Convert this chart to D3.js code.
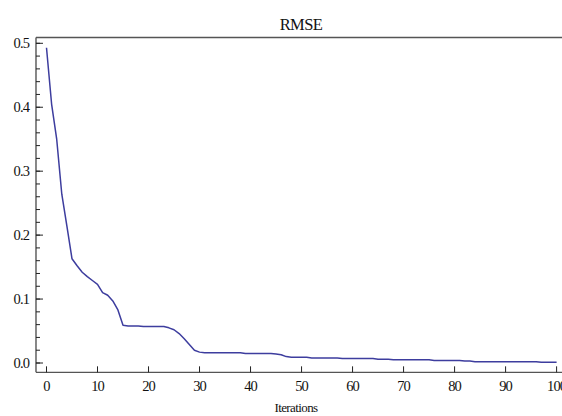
<!DOCTYPE html>
<html>
<head>
<meta charset="utf-8">
<script src="https://cdn.jsdelivr.net/npm/d3@7"></script>
<style>
  body { margin: 0; background: #fff; }
  svg { display: block; font-family: "Liberation Serif", "DejaVu Serif", serif; }
</style>
</head>
<body>
<svg id="chart" width="562" height="416"></svg>
<script>
// RMSE per iteration
var iterations = d3.range(0, 101);
var rmse = [
  0.493, 0.405, 0.350, 0.264, 0.214, 0.163, 0.152, 0.142, 0.135, 0.129,
  0.123, 0.110, 0.106, 0.097, 0.083, 0.059, 0.058, 0.058, 0.058, 0.057,
  0.057, 0.057, 0.057, 0.057, 0.055, 0.052, 0.046, 0.038, 0.029, 0.020,
  0.017, 0.016, 0.016, 0.016, 0.016, 0.016, 0.016, 0.016, 0.016, 0.015,
  0.015, 0.015, 0.015, 0.015, 0.015, 0.014, 0.013, 0.010, 0.009, 0.009,
  0.009, 0.009, 0.008, 0.008, 0.008, 0.008, 0.008, 0.008, 0.007, 0.007,
  0.007, 0.007, 0.007, 0.007, 0.007, 0.006, 0.006, 0.006, 0.005, 0.005,
  0.005, 0.005, 0.005, 0.005, 0.005, 0.005, 0.004, 0.004, 0.004, 0.004,
  0.004, 0.004, 0.003, 0.003, 0.002, 0.002, 0.002, 0.002, 0.002, 0.002,
  0.002, 0.002, 0.002, 0.002, 0.002, 0.002, 0.002, 0.001, 0.001, 0.001,
  0.001
];
var xTicks = [0, 10, 20, 30, 40, 50, 60, 70, 80, 90, 100];
var yTicks = [0.0, 0.1, 0.2, 0.3, 0.4, 0.5];
var yMinorTicks = d3.range(0, 0.5001, 0.02);

var title = "RMSE";
var xLabel = "Iterations";

// scales
var xScale = d3.scaleLinear().domain([0, 100]).range([46.5, 556.6]);
var yScale = d3.scaleLinear().domain([0, 0.5]).range([363, 43.3]);

// frame edges in data units
var xLo = -2.06, xHi = 101.8, yLo = -0.0146, yHi = 0.509;

var svg = d3.select("#chart");
var axisColor = "#555";

// frame: left, top, bottom
svg.append("line")
  .attr("x1", xScale(xLo)).attr("x2", xScale(xLo))
  .attr("y1", yScale(yLo)).attr("y2", yScale(yHi))
  .attr("stroke", axisColor).attr("stroke-width", 1.4);
svg.append("line")
  .attr("x1", xScale(xLo)).attr("x2", xScale(xHi))
  .attr("y1", yScale(yHi)).attr("y2", yScale(yHi))
  .attr("stroke", axisColor).attr("stroke-width", 1.4);
svg.append("line")
  .attr("x1", xScale(xLo)).attr("x2", xScale(xHi))
  .attr("y1", yScale(yLo)).attr("y2", yScale(yLo))
  .attr("stroke", axisColor).attr("stroke-width", 1.4);

// y ticks (inward)
var x0 = xScale(xLo);
svg.selectAll(".yminor").data(yMinorTicks).enter().append("line")
  .attr("class", "yminor")
  .attr("x1", x0).attr("x2", x0 + 4)
  .attr("y1", function (d) { return yScale(d); })
  .attr("y2", function (d) { return yScale(d); })
  .attr("stroke", "#222").attr("stroke-width", 1);
svg.selectAll(".ymajor").data(yTicks).enter().append("line")
  .attr("class", "ymajor")
  .attr("x1", x0).attr("x2", x0 + 7)
  .attr("y1", function (d) { return yScale(d); })
  .attr("y2", function (d) { return yScale(d); })
  .attr("stroke", "#222").attr("stroke-width", 1);
svg.selectAll(".ylab").data(yTicks).enter().append("text")
  .attr("class", "ylab")
  .attr("x", 29)
  .attr("y", function (d) { return yScale(d); })
  .attr("dy", "0.35em")
  .attr("text-anchor", "end")
  .attr("font-size", 14.5)
  .attr("letter-spacing", -0.9)
  .attr("fill", "#111")
  .text(d3.format(".1f"));

// x ticks (inward from bottom)
var yb = yScale(yLo);
svg.selectAll(".xmajor").data(xTicks).enter().append("line")
  .attr("class", "xmajor")
  .attr("x1", function (d) { return xScale(d); })
  .attr("x2", function (d) { return xScale(d); })
  .attr("y1", yb).attr("y2", yb - 6)
  .attr("stroke", "#222").attr("stroke-width", 1);
svg.selectAll(".xlab").data(xTicks).enter().append("text")
  .attr("class", "xlab")
  .attr("x", function (d) { return xScale(d); })
  .attr("y", 391)
  .attr("text-anchor", "middle")
  .attr("font-size", 14.5)
  .attr("letter-spacing", -0.9)
  .attr("fill", "#111")
  .text(function (d) { return d; });

// line
var line = d3.line()
  .x(function (d, i) { return xScale(iterations[i]); })
  .y(function (d) { return yScale(d); });
svg.append("path")
  .datum(rmse)
  .attr("d", line)
  .attr("fill", "none")
  .attr("stroke", "#3d3d9e")
  .attr("stroke-width", 1.5)
  .attr("stroke-linejoin", "round");

// title and axis label
svg.append("text")
  .attr("x", 301).attr("y", 30)
  .attr("text-anchor", "middle")
  .attr("font-size", 16.5)
  .attr("letter-spacing", -0.6)
  .attr("fill", "#111")
  .text(title);
svg.append("text")
  .attr("x", 296).attr("y", 412)
  .attr("text-anchor", "middle")
  .attr("font-size", 13)
  .attr("letter-spacing", -0.6)
  .attr("fill", "#111")
  .text(xLabel);
</script>
</body>
</html>
